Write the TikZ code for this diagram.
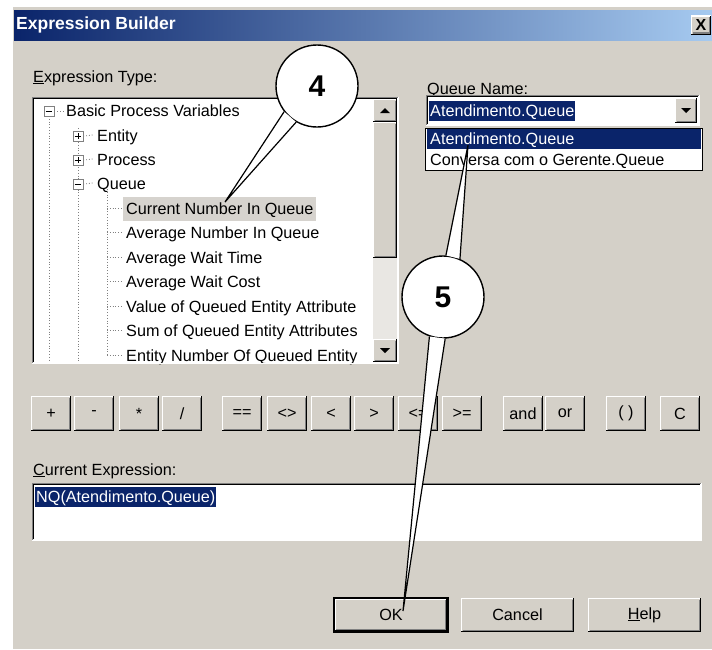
\documentclass[tikz,border=0pt]{standalone}
\usepackage{fontspec}
\setmainfont{Liberation Sans}
\usetikzlibrary{arrows.meta, positioning, calc}
\definecolor{wingray}{HTML}{D4D0C8}
\definecolor{shadowgray}{HTML}{808080}
\definecolor{selblue}{HTML}{0A246A}
\definecolor{titleleft}{HTML}{0A246A}
\definecolor{titleright}{HTML}{A6CAF0}
\definecolor{hilite}{HTML}{D6D3CE}
\definecolor{trackgray}{HTML}{E9E7E3}
\newcommand{\uifont}{\fontsize{16.2}{19}\selectfont}
% 3D edges of windows controls
\newcommand{\raised}[2][0pt]{%
	\draw[white, line width=1.2pt] ([shift={(#1+0.6pt,#1+0.6pt)}]#2.south west) |- ([shift={(-#1-0.6pt,-#1-0.6pt)}]#2.north east);
	\draw[black, line width=1.2pt] ([shift={(#1+0.6pt,#1+0.6pt)}]#2.south west) -| ([shift={(-#1-0.6pt,-#1-0.6pt)}]#2.north east);
	\draw[shadowgray, line width=1.2pt] ([shift={(#1+1.8pt,#1+1.8pt)}]#2.south west) -| ([shift={(-#1-1.8pt,-#1-1.8pt)}]#2.north east);
}
\newcommand{\sunken}[1]{%
	\draw[shadowgray, line width=1.2pt] ([shift={(0.6pt,0.6pt)}]#1.south west) |- ([shift={(-0.6pt,-0.6pt)}]#1.north east);
	\draw[black, line width=1.2pt] ([shift={(1.8pt,1.8pt)}]#1.south west) |- ([shift={(-1.8pt,-1.8pt)}]#1.north east);
	\draw[white, line width=1.2pt] ([shift={(0.6pt,0.6pt)}]#1.south west) -| ([shift={(-0.6pt,-0.6pt)}]#1.north east);
}
\tikzset{
	txt/.style={anchor=west, inner sep=0pt, text height=12pt, text depth=0pt, font=\uifont},
	btn/.style={fill=wingray, minimum width=40pt, minimum height=35pt, inner sep=0pt, font=\uifont},
	field/.style={fill=white, inner sep=0pt},
	sel/.style={fill=selblue, text=white, anchor=west, inner sep=1pt, text height=12pt, text depth=0pt, minimum height=20pt, font=\uifont},
	callout/.style={circle, draw=black, line width=1.4pt, fill=white, minimum size=82pt, inner sep=0pt, font=\fontsize{30}{30}\selectfont\bfseries},
	wedge/.style={draw=black, line width=1.2pt},
	treeline/.style={draw=shadowgray, dotted, line width=0.8pt},
	expander/.style={draw=shadowgray, fill=white, minimum size=10pt, inner sep=0pt, line width=0.8pt},
}

\begin{document}
\begin{tikzpicture}[x=1pt, y=-1pt, >=Stealth]
	\useasboundingbox (0,0) rectangle (712,649);
	\fill[white] (0,0) rectangle (712,649);
	% dialog and title bar
	\fill[wingray] (12,6) rectangle (712,649);
	\draw[white, line width=1pt] (12.5,649) -- (12.5,6.5) -- (712,6.5);
	\shade[left color=titleleft, right color=titleright] (14,10) rectangle (712,40);
	\node[anchor=west, inner sep=0pt, text=white, font=\fontsize{17.5}{20}\selectfont\bfseries] (title) at (16,25) {Expression Builder};
	\node[btn, minimum width=20pt, minimum height=19pt, font=\fontsize{16}{16}\selectfont\bfseries] (close) at (701,25) {X};
	\raised{close}
	
	% expression type tree
	\node[txt] (typelbl) at (33,76) {\underline{E}xpression Type:};
	\node[field, minimum width=367pt, minimum height=267pt] (tree) at (215.5,230.5) {};
	\fill[hilite] (123,197) rectangle (316,221);
	\draw[treeline] (49,116) -- (49,362) (78,128) -- (78,362) (107,189) -- (107,355);
	\node[expander] (e0) at (49,111) {};
	\draw[line width=0.8pt] ([xshift=2pt]e0.west) -- ([xshift=-2pt]e0.east);
	\draw[treeline] (e0.east) -- (63,111);
	\node[txt] (basic) at (66,110) {Basic Process Variables};
	\foreach \nm/\yy/\vv [count=\i] in {Entity/135/3pt, Process/159/3pt, Queue/183/0pt} {
		\node[expander] (e\i) at (78,\yy+1) {};
		\draw[line width=0.8pt] ([xshift=2pt]e\i.west) -- ([xshift=-2pt]e\i.east);
		\draw[line width=0.8pt] ([yshift=\vv]e\i.center) -- ([yshift=-\vv]e\i.center);
		\node[txt] (t\i) at (97,\yy) {\nm};
		\draw[treeline] (e\i.east) -- ([xshift=-4pt]t\i.west);
	}
	\foreach \item [count=\i] in {Current Number In Queue, Average Number In Queue, Average Wait Time, Average Wait Cost, Value of Queued Entity Attribute, Sum of Queued Entity Attributes, Entity Number Of Queued Entity} {
		\node[txt] (q\i) at (126,183.5+24.5*\i) {\item};
		\draw[treeline] (107,183.5+24.5*\i) -- ([xshift=-4pt]q\i.west);
	}
	% scrollbar
	\node[btn, minimum width=24pt, minimum height=23pt] (scrollup) at (385,110.5) {};
	\node[btn, minimum width=24pt, minimum height=136pt] (thumb) at (385,190) {};
	\fill[trackgray] (373,258) rectangle (397,339);
	\node[btn, minimum width=24pt, minimum height=23pt] (scrolldown) at (385,350.5) {};
	\raised{scrollup}
	\raised{thumb}
	\raised{scrolldown}
	\fill ([shift={(-5pt,-2.5pt)}]scrollup.center) -- ([shift={(5pt,-2.5pt)}]scrollup.center) -- ([shift={(0pt,2.5pt)}]scrollup.center) -- cycle;
	\fill ([shift={(-5pt,2.5pt)}]scrolldown.center) -- ([shift={(5pt,2.5pt)}]scrolldown.center) -- ([shift={(0pt,-2.5pt)}]scrolldown.center) -- cycle;
	\sunken{tree}
	
	% queue name combo
	\node[txt] (qlbl) at (427,88) {\underline{Q}ueue Name:};
	\node[field, minimum width=274pt, minimum height=31pt] (combo) at (563,110.5) {};
	\node[sel] (qsel) at (429,110.5) {Atendimento.Queue};
	\node[btn, minimum width=22pt, minimum height=25pt] (drop) at (686,110.5) {};
	\raised{drop}
	\fill ([shift={(-5pt,2.5pt)}]drop.center) -- ([shift={(5pt,2.5pt)}]drop.center) -- ([shift={(0pt,-2.5pt)}]drop.center) -- cycle;
	\sunken{combo}
	\node[field, draw=black, line width=1pt, minimum width=277pt, minimum height=42pt] (qlist) at (563.5,149) {};
	\fill[selblue] (426.5,129) rectangle (700.5,148.5);
	\node[txt, text=white] (item1) at (430,138.5) {Atendimento.Queue};
	\node[txt] (item2) at (430,159) {Conversa com o Gerente.Queue};
	
	% operator buttons
	\foreach \lbl/\cx [count=\i] in {+/51, -/94, */139, {/}/182, ==/242, <>/287, </331, >/374, <=/418, >=/462, and/523, or/565, ( )/626, C/680} {
		\node[btn] (op\i) at (\cx,413.5) {\lbl};
		\raised{op\i}
	}
	
	% current expression
	\node[txt] (exprlbl) at (33,469) {\underline{C}urrent Expression:};
	\node[field, minimum width=670pt, minimum height=58pt] (expr) at (367,512) {};
	\sunken{expr}
	\node[sel] (exprsel) at (35,496.5) {NQ(Atendimento.Queue)};
	
	% dialog buttons
	\node[btn, minimum width=114pt, minimum height=34pt, draw=black, line width=1.2pt] (ok) at (391,615) {OK};
	\raised[1.2pt]{ok}
	\node[btn, minimum width=113pt, minimum height=34pt] (cancel) at (517.5,615) {Cancel};
	\raised{cancel}
	\node[btn, minimum width=113pt, minimum height=34pt] (help) at (644.5,615) {\underline{H}elp};
	\raised{help}
	
	% callouts
	\node[callout] (c4) at (317,86) {4};
	\coordinate (tip4) at (225,202);
	\fill[white] (c4.218) -- (tip4) -- (c4.240) -- cycle;
	\draw[wedge] (c4.218) -- (tip4) -- (c4.240);
	\node[callout] (c5) at (443,297) {5};
	\coordinate (tip5a) at (468,145);
	\coordinate (tip5b) at (403,611);
	\fill[white] (c5.86) -- (tip5a) -- (c5.66) -- cycle;
	\draw[wedge] (c5.86) -- (tip5a) -- (c5.66);
	\fill[white] (c5.251) -- (tip5b) -- (c5.273) -- cycle;
	\draw[wedge] (c5.251) -- (tip5b) -- (c5.273);
\end{tikzpicture}
\end{document}
